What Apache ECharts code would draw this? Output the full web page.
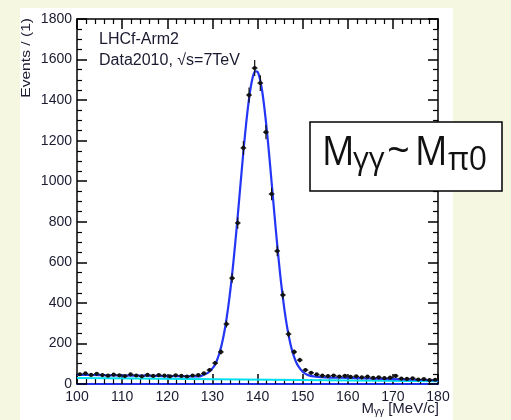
<!DOCTYPE html>
<html>
<head>
<meta charset="utf-8">
<script src="https://cdn.jsdelivr.net/npm/echarts@6/dist/echarts.min.js"></script>
<style>
  html, body { margin:0; padding:0; background:#f5f7e1; }
  #panel { position:absolute; left:20px; top:8px; width:433px; height:412px; background:#ffffff; }
  #chart { position:absolute; left:0; top:0; width:511px; height:420px; }
</style>
</head>
<body>
<div id="panel"></div>
<div id="chart"></div>
<script>
// ---- data ----
const binStart = 100;
const binWidth = 1.25;
const counts = [48, 52, 45, 50, 44, 41, 46, 43, 39, 47, 42, 38, 45, 40, 44, 41, 38, 43, 40, 37, 42, 44, 52,
  69, 103, 158, 296, 522, 794, 1164, 1425, 1558, 1484, 1242, 937, 656, 439, 246, 158, 118, 69,
  55, 47, 41, 39, 42, 37, 40, 35, 38, 33, 36, 30, 33, 29, 31, 40, 27, 25, 28, 22, 24, 19, 21];
// fit curve (signal + background)
const fitX = [100, 105, 110, 115, 120, 125, 127, 128, 129, 130, 130.5, 131, 131.5, 132, 132.5, 133, 133.5, 134, 134.5,
  135, 135.5, 136, 136.5, 137, 137.5, 138, 138.5, 139, 139.5, 140, 140.5, 141, 141.5, 142, 142.5, 143, 143.5,
  144, 144.5, 145, 145.5, 146, 146.5, 147, 147.5, 148, 148.5, 149, 150, 151, 152, 155, 160, 165, 170, 175, 180];
const fitY = [45, 44, 42, 41, 39, 38, 37, 45, 55, 77, 92, 116, 148, 188, 239, 302, 378, 466, 567,
  679, 799, 926, 1052, 1175, 1288, 1385, 1463, 1517, 1542, 1540, 1508, 1450, 1367, 1266, 1151, 1027, 900,
  775, 656, 546, 447, 362, 289, 228, 179, 141, 111, 89, 60, 46, 39, 33, 30, 27, 24, 21, 18];
// background component (cyan)
const bgX = [100, 180];
const bgY = [30, 14];
const xTicks = [100, 110, 120, 130, 140, 150, 160, 170, 180];
const yTicks = [0, 200, 400, 600, 800, 1000, 1200, 1400, 1600, 1800];

const centers = counts.map((_, i) => binStart + binWidth * (i + 0.5));
const points = centers.map((x, i) => [x, counts[i]]);
const fitData = fitX.map((x, i) => [x, fitY[i]]);
const bgData = bgX.map((x, i) => [x, bgY[i]]);

const chart = echarts.init(document.getElementById('chart'), null, {renderer: 'canvas'});
const lblFont = 'Liberation Sans';
const txtCol = '#1a1a30';
function minor(n) { return { show: true, splitNumber: n, length: 5, lineStyle: { color: '#000', width: 1.2 } }; }
const major = { show: true, inside: true, length: 10, lineStyle: { color: '#000', width: 1.5 } };
function axisBase(ticks, interval, pos, n, showLabel, lineColor) {
  return {
    type: 'value', min: ticks[0], max: ticks[ticks.length - 1], interval: interval, position: pos,
    axisLine: { show: true, onZero: false, lineStyle: { color: lineColor, width: lineColor === '#000' ? 1.5 : 2 } },
    axisTick: major, minorTick: minor(n),
    splitLine: { show: false }, minorSplitLine: { show: false },
    axisLabel: showLabel ? { show: true, fontSize: 14, fontFamily: lblFont, color: txtCol, margin: pos === 'left' ? 5 : 6,
      formatter: v => String(v) } : { show: false }
  };
}
const option = {
  backgroundColor: 'transparent',
  animation: false,
  grid: { left: 77, right: 73, top: 19, bottom: 36, containLabel: false },
  xAxis: [
    axisBase(xTicks, 10, 'bottom', 5, true, '#2030e8'),
    axisBase(xTicks, 10, 'top', 5, false, '#000')
  ],
  yAxis: [
    axisBase(yTicks, 200, 'left', 4, true, '#000'),
    axisBase(yTicks, 200, 'right', 4, false, '#000')
  ],
  series: [
    {
      type: 'line', data: bgData, showSymbol: false, symbol: 'none', z: 2,
      lineStyle: { color: '#00e0f0', width: 2 }
    },
    {
      type: 'line', data: fitData, showSymbol: false, symbol: 'none', smooth: 0.3, z: 3,
      lineStyle: { color: '#2436f5', width: 2.2 }
    },
    {
      type: 'custom', z: 5,
      data: points,
      renderItem: function (params, api) {
        const x = api.value(0), y = api.value(1);
        const e = Math.sqrt(y);
        const c = api.coord([x, y]);
        const lo = api.coord([x, y - e]);
        const hi = api.coord([x, y + e]);
        const l = api.coord([x - binWidth / 2, y]);
        const r = api.coord([x + binWidth / 2, y]);
        const st = { stroke: '#111', lineWidth: 1.2 };
        return {
          type: 'group',
          children: [
            { type: 'line', shape: { x1: c[0], y1: lo[1], x2: c[0], y2: hi[1] }, style: st },
            { type: 'line', shape: { x1: l[0], y1: c[1], x2: r[0], y2: c[1] }, style: st },
            { type: 'circle', shape: { cx: c[0], cy: c[1], r: 2.1 }, style: { fill: '#111' } }
          ]
        };
      }
    }
  ],
  graphic: [
    { type: 'text', x: 99, y: 32, z: 50, style: { text: 'LHCf-Arm2', font: '16px "Liberation Sans"', fill: txtCol } },
    { type: 'text', x: 99, y: 53, z: 50, style: { text: 'Data2010, √s=7TeV', font: '16px "Liberation Sans"', fill: txtCol } },
    { type: 'text', x: 27, y: 18, rotation: Math.PI / 2, scaleX: 1.3, z: 50,
      style: { text: 'Events / (1)', font: '12px "Liberation Sans"', fill: txtCol, align: 'right', verticalAlign: 'middle' } },
    { type: 'text', x: 439, y: 409, z: 50,
      style: { text: '{m|M}{s|γγ}{n| [MeV/c]}', align: 'right', verticalAlign: 'middle',
        rich: { m: { fontSize: 15, fontFamily: lblFont, fill: txtCol }, s: { fontSize: 10, fontFamily: lblFont, fill: txtCol, padding: [7, 0, 0, 0] }, n: { fontSize: 15, fontFamily: lblFont, fill: txtCol } } } },
    { type: 'rect', z: 100, shape: { x: 310, y: 122, width: 192, height: 69 }, style: { fill: '#fff', stroke: '#000', lineWidth: 1.5 } },
    { type: 'text', z: 101, x: 322, y: 153, scaleX: 0.88, style: { text: 'M', font: '41px "Open Sans"', fill: '#111', verticalAlign: 'middle' } },
    { type: 'text', z: 101, x: 353, y: 160, style: { text: 'γγ', font: '31px "Open Sans"', fill: '#111', verticalAlign: 'middle' } },
    { type: 'text', z: 101, x: 387, y: 153, style: { text: '~', font: '40px "Open Sans"', fill: '#111', verticalAlign: 'middle' } },
    { type: 'text', z: 101, x: 415, y: 153, scaleX: 0.88, style: { text: 'M', font: '41px "Open Sans"', fill: '#111', verticalAlign: 'middle' } },
    { type: 'text', z: 101, x: 448, y: 161, style: { text: 'π0', font: '32px "Open Sans"', fill: '#111', verticalAlign: 'middle' } }
  ]
};
chart.setOption(option);
</script>
</body>
</html>
